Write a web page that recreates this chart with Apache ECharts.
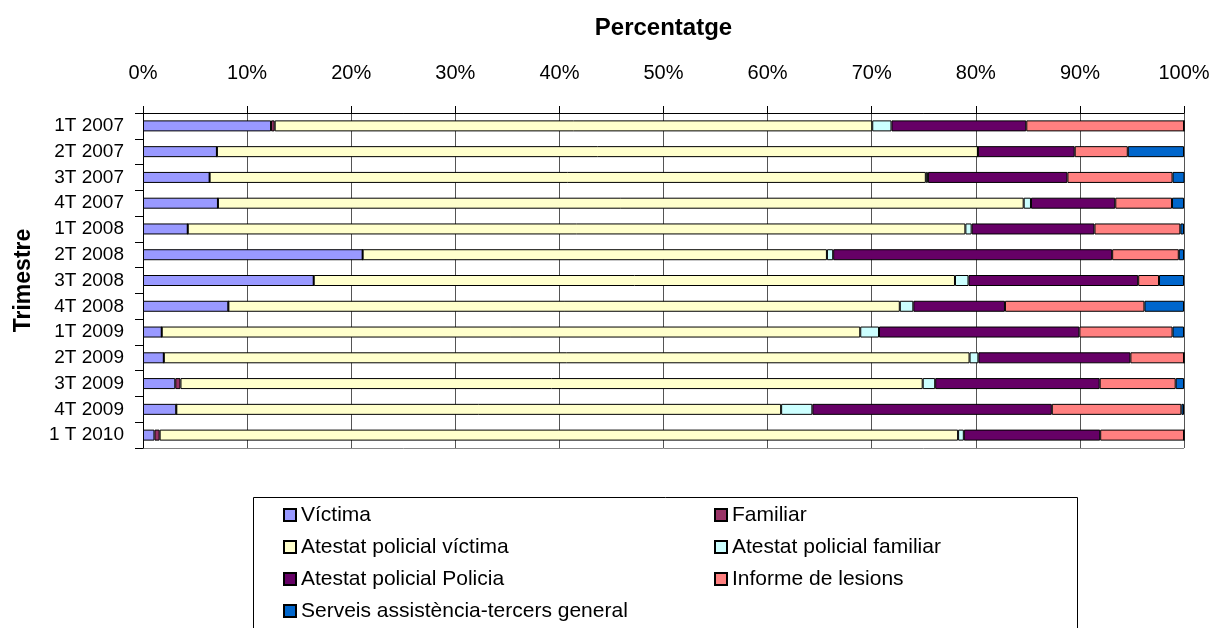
<!DOCTYPE html>
<html>
<head>
<meta charset="utf-8">
<script src="https://cdn.jsdelivr.net/npm/echarts@6/dist/echarts.min.js"></script>
<style>
  html, body { margin: 0; padding: 0; background: #fff; }
  #chart { width: 1210px; height: 628px; }
</style>
</head>
<body>
<div id="chart"></div>
<script>
// categories (trimestres), top to bottom
const categories = ['1T 2007', '2T 2007', '3T 2007', '4T 2007', '1T 2008', '2T 2008', '3T 2008',
  '4T 2008', '1T 2009', '2T 2009', '3T 2009', '4T 2009', '1 T 2010'];

// percentatges per serie
const victima = [12.3, 7.1, 6.4, 7.2, 4.3, 21.1, 16.4, 8.2, 1.8, 2.0, 3.1, 3.2, 1.1];
const familiar = [0.35, 0, 0, 0, 0, 0, 0, 0, 0, 0, 0.5, 0, 0.5];
const atestatVictima = [57.4, 73.1, 68.8, 77.4, 74.7, 44.6, 61.6, 64.5, 67.1, 77.4, 71.3, 58.1, 76.7];
const atestatFamiliar = [1.85, 0, 0.2, 0.7, 0.6, 0.6, 1.3, 1.3, 1.8, 0.85, 1.2, 3.0, 0.55];
const atestatPolicia = [12.95, 9.3, 13.4, 8.1, 11.8, 26.8, 16.3, 8.8, 19.25, 14.6, 15.8, 23.0, 13.1];
const informeLesions = [15.15, 5.1, 10.1, 5.45, 8.25, 6.4, 2.0, 13.4, 8.95, 5.15, 7.3, 12.45, 8.05];
const serveis = [0, 5.4, 1.3, 1.15, 0.35, 0.5, 2.4, 3.8, 1.1, 0, 0.8, 0.25, 0];

const tickLabels = ['0%', '10%', '20%', '30%', '40%', '50%', '60%', '70%', '80%', '90%', '100%'];

const seriesDefs = [
  { name: 'Víctima', data: victima, color: '#9999FF' },
  { name: 'Familiar', data: familiar, color: '#993366' },
  { name: 'Atestat policial víctima', data: atestatVictima, color: '#FFFFCC' },
  { name: 'Atestat policial familiar', data: atestatFamiliar, color: '#CCFFFF' },
  { name: 'Atestat policial Policia', data: atestatPolicia, color: '#660066' },
  { name: 'Informe de lesions', data: informeLesions, color: '#FF8080' },
  { name: 'Serveis assistència-tercers general', data: serveis, color: '#0066CC' }
];

const FONT = '"Liberation Sans", Arial, sans-serif';

const chart = echarts.init(document.getElementById('chart'));

const option = {
  animation: false,
  backgroundColor: '#fff',
  textStyle: { fontFamily: FONT, color: '#000' },
  grid: { left: 143, right: 26, top: 113, bottom: 180, containLabel: false, outerBoundsMode: 'none' },
  xAxis: {
    type: 'value',
    position: 'top',
    min: 0,
    max: 100,
    interval: 10,
    name: 'Percentatge',
    nameLocation: 'middle',
    nameGap: 73,
    nameTextStyle: { fontFamily: FONT, fontSize: 24, fontWeight: 'bold', color: '#000' },
    axisLine: { show: true, lineStyle: { color: '#000', width: 1 } },
    axisTick: { show: true, length: 7, lineStyle: { color: '#000' } },
    axisLabel: {
      margin: 30,
      fontFamily: FONT,
      fontSize: 20,
      color: '#000',
      formatter: (v) => tickLabels[Math.round(v / 10)]
    },
    splitLine: { show: true, lineStyle: { color: '#555', width: 1 } }
  },
  yAxis: {
    type: 'category',
    inverse: true,
    data: categories,
    name: 'Trimestre',
    nameLocation: 'middle',
    nameGap: 108,
    nameTextStyle: { fontFamily: FONT, fontSize: 23, fontWeight: 'bold', color: '#000' },
    axisLine: { show: true, lineStyle: { color: '#000', width: 1 } },
    axisTick: { show: true, length: 8, lineStyle: { color: '#000' } },
    axisLabel: { interval: 0, margin: 19, fontFamily: FONT, fontSize: 19, color: '#000' },
    splitLine: { show: false }
  },
  legend: {
    left: 283,
    top: 504,
    width: 880,
    orient: 'horizontal',
    padding: 0,
    itemGap: 10,
    itemWidth: 12,
    itemHeight: 12,
    icon: 'rect',
    textStyle: {
      fontFamily: FONT,
      fontSize: 21,
      color: '#000',
      width: 403,
      lineHeight: 22,
      overflow: 'truncate'
    },
    data: seriesDefs.map((s) => s.name)
  },
  graphic: [
    {
      type: 'rect',
      shape: { x: 253.5, y: 497.5, width: 824, height: 140 },
      style: { fill: 'none', stroke: '#000', lineWidth: 1 },
      z: -1
    },
    {
      type: 'line',
      shape: { x1: 1184.5, y1: 113, x2: 1184.5, y2: 448 },
      style: { stroke: '#000', lineWidth: 1 }
    },
    {
      type: 'line',
      shape: { x1: 143, y1: 448.5, x2: 1184, y2: 448.5 },
      style: { stroke: '#888', lineWidth: 1 }
    }
  ],
  series: seriesDefs.map((s) => ({
    name: s.name,
    type: 'bar',
    stack: 'total',
    barWidth: 11,
    data: s.data,
    itemStyle: { color: s.color, borderColor: '#000', borderWidth: 1 }
  }))
};

chart.setOption(option);
</script>
</body>
</html>
